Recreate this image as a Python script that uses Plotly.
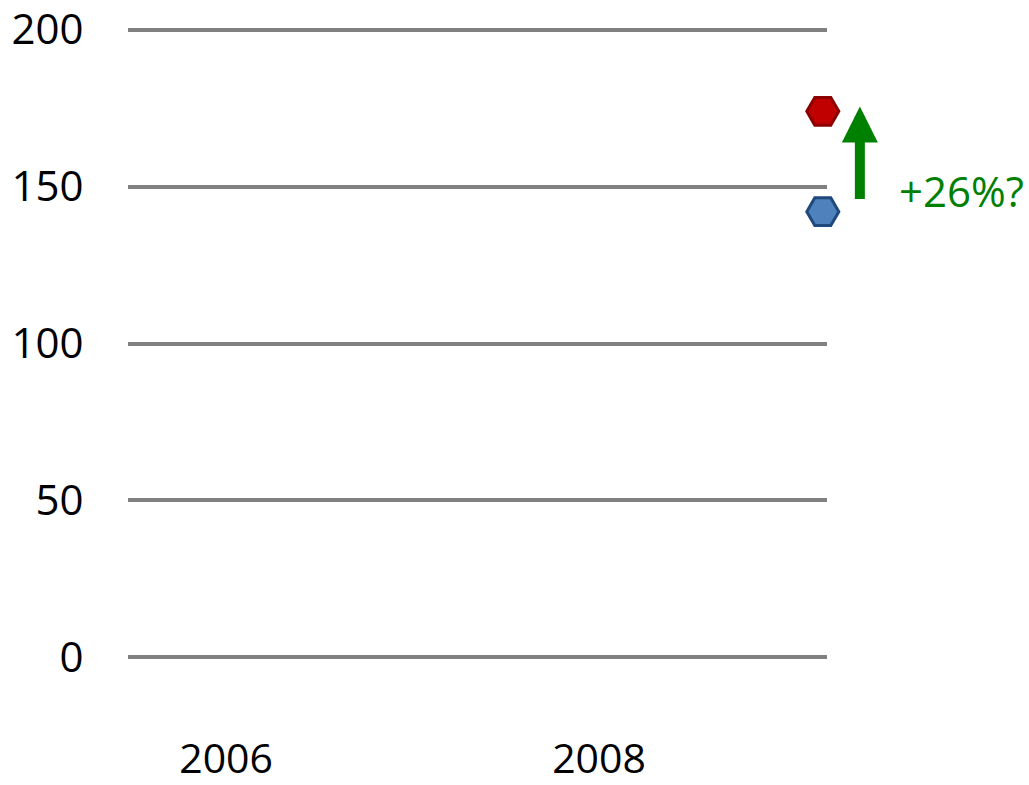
import plotly.graph_objects as go

# Series values
years = [2009.2, 2009.2]
values = [174, 142]
fill_colors = ["#C00000", "#4F81BD"]
edge_colors = ["#8B0000", "#1F497D"]

# Axis ticks
y_ticks = [0, 50, 100, 150, 200]
x_ticks = [2006, 2008]
x_tick_labels = ["2006", "2008"]

change_label = "+26%?"

fig = go.Figure()

fig.add_trace(go.Scatter(
    x=years,
    y=values,
    mode="markers",
    cliponaxis=False,
    marker=dict(
        symbol="hexagon2",
        size=32,
        color=fill_colors,
        line=dict(color=edge_colors, width=3),
    ),
    showlegend=False,
    hoverinfo="skip",
))

# Upward arrow from the lower point towards the higher one
fig.add_annotation(
    xref="paper", yref="y",
    x=1.047, y=175.5,
    ax=0, ay=94,
    text="",
    showarrow=True,
    arrowhead=2,
    arrowwidth=10,
    arrowsize=0.72,
    arrowcolor="#008000",
    standoff=0,
)

fig.add_annotation(
    xref="paper", yref="y",
    x=1.1, y=148.6,
    xanchor="left", yanchor="middle",
    text=change_label,
    showarrow=False,
    font=dict(family="Open Sans", size=42, color="#008000"),
)

fig.update_xaxes(
    range=[2005.474, 2009.2225],
    tickvals=x_ticks,
    ticktext=x_tick_labels,
    showgrid=False,
    zeroline=False,
    showline=False,
    automargin=False,
    ticklabeloverflow="allow",
    ticks="outside",
    ticklen=50,
    tickcolor="rgba(0,0,0,0)",
    tickfont=dict(family="Open Sans", size=41, color="#000000"),
)

fig.update_yaxes(
    range=[-5, 205],
    tickvals=y_ticks,
    showgrid=True,
    gridcolor="#808080",
    gridwidth=4,
    zeroline=False,
    showline=False,
    automargin=False,
    ticklabeloverflow="allow",
    ticks="outside",
    ticklen=35,
    tickcolor="rgba(0,0,0,0)",
    tickfont=dict(family="Open Sans", size=42, color="#000000"),
)

fig.update_layout(
    width=1029,
    height=785,
    margin=dict(l=128, r=202, t=14, b=112, autoexpand=False),
    plot_bgcolor="white",
    paper_bgcolor="white",
)

fig.write_html("out.html")
